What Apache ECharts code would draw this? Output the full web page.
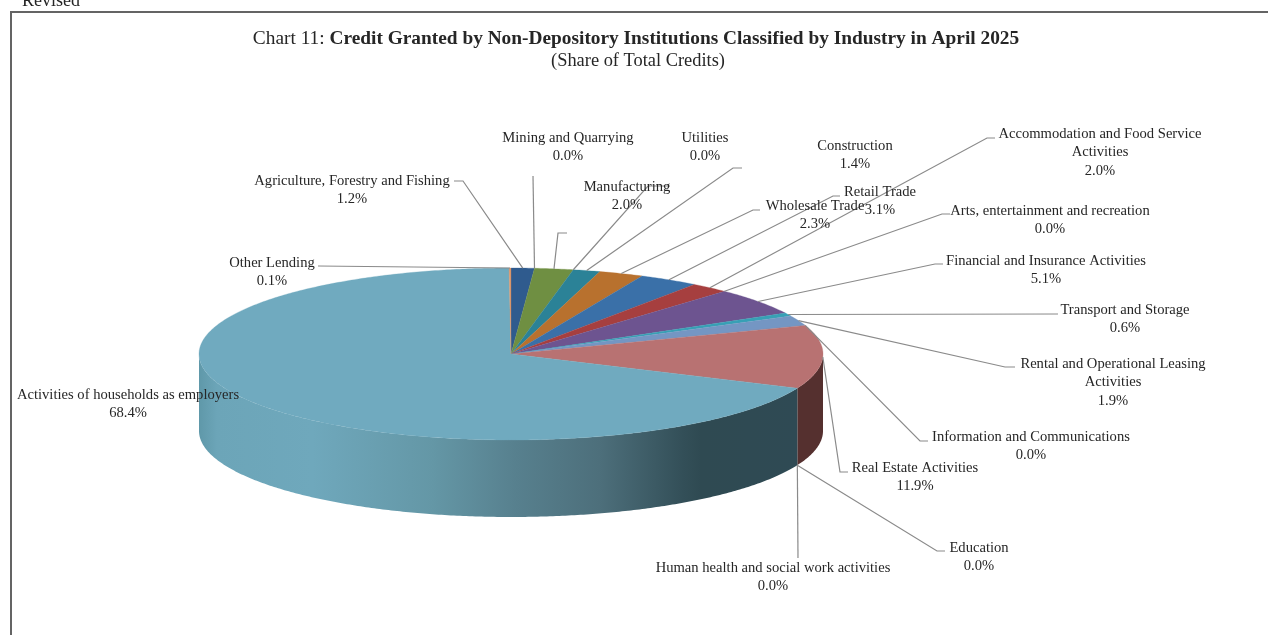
<!DOCTYPE html>
<html><head><meta charset="utf-8">
<style>html,body{margin:0;padding:0;background:#fff}#c{width:1268px;height:635px}</style>
<script src="https://cdn.jsdelivr.net/npm/echarts@6/dist/echarts.min.js"></script>
</head><body><div id="c"></div>
<script>
// ---- data ----
const categories = [
  'Agriculture, Forestry and Fishing','Mining and Quarrying','Manufacturing','Utilities','Construction',
  'Wholesale Trade','Retail Trade','Accommodation and Food Service\nActivities','Arts, entertainment and recreation',
  'Financial and Insurance Activities','Transport and Storage','Rental and Operational Leasing\nActivities',
  'Information and Communications','Real Estate Activities','Education','Human health and social work activities',
  'Activities of households as employers','Other Lending'
];
const shares = [1.2,0.0,2.0,0.0,1.4,2.3,3.1,2.0,0.0,5.1,0.6,1.9,0.0,11.9,0.0,0.0,68.4,0.1];

// ---- styling / layout (not data) ----
const sliceColors = ['#2f5b8e','#4f81bd','#6f8f42','#c0504d','#2b8297','#b8712e','#3a70a8','#a63f3f','#8064a2',
  '#6d5490','#37a0b5','#7496c3','#4bacc6','#b87272','#f79646','#9bbb59','#70aabf','#d9946a'];
const wallPink = '#55302f';
const pie = {cx:511, cy:354, rx:312, ry:86, depth:77};
// label centre [x, first-line y]; leader elbow points from slice anchor to label (null = no leader)
const labelPos = [[352,180],[568,137],[627,186],[705,137],[855,145],[815,205],[880,191],[1100,133],[1050,210],
  [1046,260],[1125,309],[1113,363],[1031,436],[915,467],[979,547],[773,567],[128,394],[272,262]];
const elbows = [
  [[463,181],[454,181]], [[533,176]], [[558,233],[567,233]], [[648,186],[670,186]], [[733,168],[742,168]],
  [[753,210],[760,210]], [[833,196],[840,196]], [[987,138],[995,138]], [[942,214],[950,214]],
  [[935,264],[943,264]], [[1058,314]], [[1005,367],[1015,367]], [[920,441],[928,441]], [[840,472],[848,472]],
  [[937,551],[945,551]], [[798,558]], null, [[318,266]]
];
const onWall = [14,15]; // leaders that start from the lower rim

const FONT = '"Liberation Serif","Times New Roman",serif';
const total = shares.reduce((a,b)=>a+b,0);
const cum = []; shares.reduce((a,b,i)=>{cum[i]=a;return a+b;},0);
const ang = s => s/total*Math.PI*2;
const pt = (t,dy=0)=>[pie.cx+pie.rx*Math.sin(t), pie.cy-pie.ry*Math.cos(t)+dy];
function arc(t0,t1,dy=0){const n=Math.max(2,Math.ceil((t1-t0)/0.01));const p=[];
  for(let i=0;i<=n;i++)p.push(pt(t0+(t1-t0)*i/n,dy));return p;}

const wallGrad = {type:'linear',global:true,x:199,y:0,x2:797,y2:0,colorStops:[
  {offset:0,color:'#5f98a9'},{offset:0.03,color:'#6ca5b8'},{offset:0.19,color:'#6fa8bc'},
  {offset:0.39,color:'#6497a6'},{offset:0.53,color:'#57808e'},{offset:0.67,color:'#4d6f7b'},
  {offset:0.81,color:'#334f58'},{offset:0.84,color:'#2f4a52'},{offset:1,color:'#2f4a54'}]};

function renderItem(params, api){
  const i = params.dataIndex, v = api.value(0);
  const t0 = ang(cum[i]), t1 = ang(cum[i]+v), children = [];
  // side wall: only the part facing the viewer (90deg..270deg from the top)
  const a = Math.max(t0,Math.PI/2), b = Math.min(t1,Math.PI*1.5);
  if (v>0 && b>a){
    const pts = arc(a,b).concat(arc(a,b,pie.depth).reverse());
    children.push({type:'polygon',z2:1,shape:{points:pts},
      style:{fill:i===13?wallPink:wallGrad,stroke:null}});
  }
  if (v>0){
    children.push({type:'polygon',z2:2,shape:{points:[[pie.cx,pie.cy]].concat(arc(t0,t1))},
      style:{fill:sliceColors[i],stroke:sliceColors[i],lineWidth:0.3}});
  }
  // leader line
  if (elbows[i]){
    const mid = ang(cum[i]+v/2);
    const start = pt(mid, onWall.includes(i)?pie.depth:0);
    children.push({type:'polyline',z2:3,shape:{points:[start].concat(elbows[i])},
      style:{fill:null,stroke:'#8a8a8a',lineWidth:1.2}});
  }
  // label
  children.push({type:'text',z2:4,style:{
    text:categories[i]+'\n'+v.toFixed(1)+'%', x:labelPos[i][0], y:labelPos[i][1]-7.8,
    align:'center', verticalAlign:'top', lineHeight:18.2,
    font:'14.6px '+FONT, fill:'#262626'}});
  return {type:'group',children};
}

const chart = echarts.init(document.getElementById('c'),null,{renderer:'canvas'});
chart.setOption({
  animation:false, backgroundColor:'#fff',
  title:[
    {text:'{a|Chart 11: }{b|Credit Granted by Non-Depository Institutions Classified by Industry in April 2025}',
     left:631, top:24, textAlign:'center',
     textStyle:{rich:{a:{fontFamily:FONT,fontSize:19.35,fontWeight:'normal',color:'#262626'},
                      b:{fontFamily:FONT,fontSize:19.35,fontWeight:'bold',color:'#262626'}}}},
    {text:'(Share of Total Credits)',left:633,top:47,textAlign:'center',
     textStyle:{fontFamily:FONT,fontSize:18.4,fontWeight:'normal',color:'#262626'}},
    {text:'*Revised',left:13,top:-8,padding:0,
     textStyle:{fontFamily:FONT,fontSize:18,fontWeight:'normal',color:'#262626'}}
  ],
  graphic:[{type:'polyline',silent:true,shape:{points:[[11,640],[11,12],[1270,12]]},
            style:{fill:null,stroke:'#646464',lineWidth:2}}],
  series:[{type:'custom',coordinateSystem:'none',renderItem,silent:true,
           data:shares.map((s,i)=>({name:categories[i],value:[s]}))}]
});
</script></body></html>
